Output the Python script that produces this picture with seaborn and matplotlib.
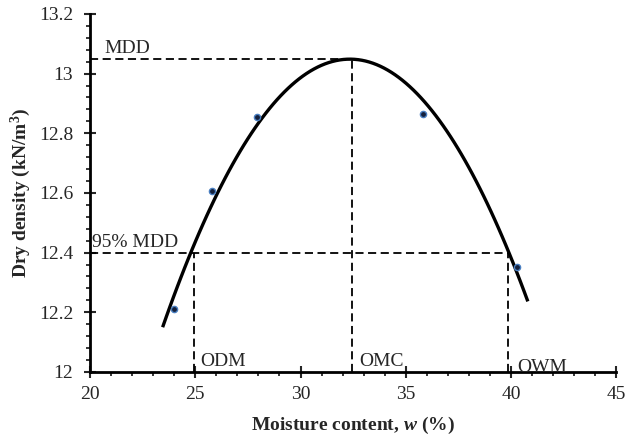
import numpy as np
import matplotlib
matplotlib.use("Agg")
import matplotlib.pyplot as plt
import seaborn as sns

# measured points (moisture %, dry density kN/m3)
moisture = [24.0, 25.8, 27.95, 35.8, 40.3]
density = [12.21, 12.607, 12.856, 12.866, 12.352]

# range the trendline is drawn over
fit_range = (23.45, 40.8)

# reference values for the dashed guide lines
mdd = 13.05
mdd95 = 12.4
omc = 32.45
odm = 24.95
owm = 39.85

sns.set_theme(style="white")
plt.rcParams["font.family"] = ["Liberation Serif", "DejaVu Serif"]
plt.rcParams["mathtext.fontset"] = "custom"
plt.rcParams["mathtext.rm"] = "Liberation Serif"
plt.rcParams["mathtext.it"] = "Liberation Serif:italic:bold"
plt.rcParams["mathtext.bf"] = "Liberation Serif:bold"

fig = plt.figure(figsize=(6.25, 4.36), dpi=100)
ax = fig.add_axes([0.144, 0.147, 0.842, 0.821])

# polynomial trendline (order 2), drawn across fit_range
ax.set_xlim(*fit_range)
sns.regplot(x=moisture, y=density, order=2, ci=None, truncate=False,
            scatter=False, ax=ax,
            line_kws=dict(color="black", lw=2.4, solid_capstyle="butt"))

sns.scatterplot(x=moisture, y=density, ax=ax, s=20, color="#14213d",
                edgecolor="#4a7fc1", linewidth=1.0, zorder=3)

# dashed guide lines
dash = dict(color="black", lw=1.3, ls=(0, (4.5, 2.5)))
ax.plot([20, omc], [mdd, mdd], **dash)
ax.plot([omc, omc], [12, mdd], **dash)
ax.plot([20, owm], [mdd95, mdd95], **dash)
ax.plot([odm, odm], [12, mdd95], **dash)
ax.plot([owm, owm], [12, mdd95], **dash)

fs = 14
ax.text(20.7, mdd + 0.006, "MDD", fontsize=fs, va="bottom")
ax.text(20.1, mdd95 + 0.006, "95% MDD", fontsize=fs, va="bottom")
ax.text(odm + 0.3, 12.005, "ODM", fontsize=fs, va="bottom")
ax.text(omc + 0.35, 12.005, "OMC", fontsize=fs, va="bottom")
ax.text(owm + 0.45, 11.985, "OWM", fontsize=fs, va="bottom")

ax.set_xlim(20, 45)
ax.set_ylim(12, 13.2)
ax.set_xticks([20, 25, 30, 35, 40, 45])
ax.set_yticks([12, 12.2, 12.4, 12.6, 12.8, 13, 13.2])
ax.set_yticklabels(["12", "12.2", "12.4", "12.6", "12.8", "13", "13.2"])
ax.set_xticks(np.arange(20, 45, 1), minor=True)
ax.set_yticks(np.arange(12, 13.2, 0.04), minor=True)
ax.tick_params(which="major", direction="inout", length=8, width=1.5,
               labelsize=fs, pad=8)
ax.tick_params(axis="x", which="major", pad=6)
ax.tick_params(which="minor", direction="out", length=3, width=1.3)
ax.tick_params(axis="both", which="both", left=True, bottom=True)

for s in ["top", "right"]:
    ax.spines[s].set_visible(False)
for s in ["left", "bottom"]:
    ax.spines[s].set_linewidth(2)
    ax.spines[s].set_color("black")

ax.set_xlabel(r"Moisture content, $w$ (%)", fontsize=fs, fontweight="bold",
              labelpad=9)
ax.set_ylabel(r"Dry density (kN/m$^\mathbf{3}$)", fontsize=fs,
              fontweight="bold", labelpad=4)

fig.savefig("out.png", dpi=100)
